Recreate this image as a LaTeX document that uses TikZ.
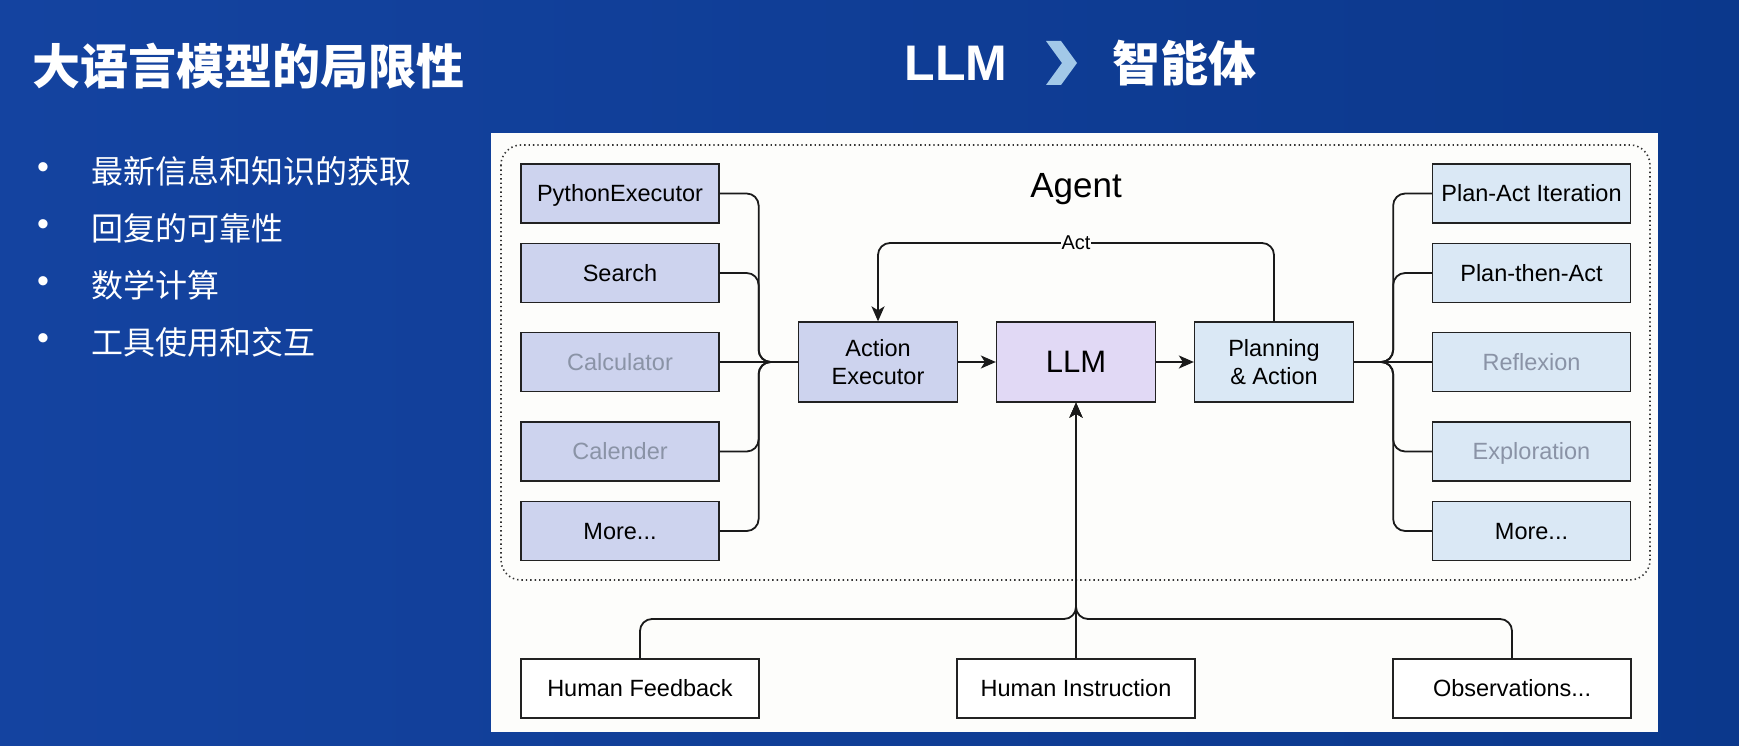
\documentclass[tikz,border=0pt]{standalone}
\usepackage{fontspec}
\setmainfont{Liberation Sans}
\newfontfamily\cjk{Noto Sans CJK SC}
\usetikzlibrary{arrows.meta}
\definecolor{bgL}{HTML}{1443A0}
\definecolor{bgR}{HTML}{0B388C}
\definecolor{panel}{HTML}{FDFDFB}
\definecolor{toolfill}{HTML}{CDD3EE}
\definecolor{llmfill}{HTML}{E1D9F5}
\definecolor{planfill}{HTML}{DAE8F5}
\definecolor{boxline}{HTML}{222222}
\definecolor{linecol}{HTML}{1A1A1A}
\definecolor{dimtext}{HTML}{8A93A6}
\definecolor{chev}{HTML}{A2C8E8}
\tikzset{
  box/.style={draw=boxline, line width=1.3pt, minimum width=198pt, minimum height=59pt,
    inner sep=0pt, font=\fontsize{23.5}{28}\selectfont, text=black,
    text height=16.8pt, text depth=0pt},
  tool/.style={box, fill=toolfill},
  plan/.style={box, fill=planfill},
  human/.style={box, fill=white, minimum width=238pt},
  dim/.style={text=dimtext},
  core/.style={draw=boxline, line width=1.3pt, minimum width=159pt, minimum height=80pt,
    inner sep=0pt, font=\fontsize{23.5}{28}\selectfont, align=center},
  conn/.style={draw=linecol, line width=1.8pt, rounded corners=12pt},
  arr/.style={-{Stealth[length=15pt,width=13pt,inset=4pt]}},
  bullet/.style={text=white, font=\fontsize{34}{34}\selectfont, inner sep=0pt},
  btext/.style={text=white, font=\cjk\fontsize{32}{32}\selectfont, inner sep=0pt, anchor=west},
}
\begin{document}
\begin{tikzpicture}[x=1pt,y=-1pt]
\useasboundingbox (0,0) rectangle (1739,746);
\shade[left color=bgL, right color=bgR] (0,0) rectangle (1739,746);

% titles
\node[text=white, font=\cjk\bfseries\fontsize{48}{48}\selectfont, inner sep=0pt, anchor=west] (title) at (32,66) {大语言模型的局限性};
\node[text=white, font=\bfseries\fontsize{50}{50}\selectfont, inner sep=0pt] (tllm) at (956,63) {LLM};
\fill[chev] (1046,41) -- (1061,41) -- (1077,63) -- (1061,85) -- (1046,85) -- (1062,63) -- cycle;
\node[text=white, font=\cjk\bfseries\fontsize{48}{48}\selectfont, inner sep=0pt] (tagent) at (1184,63) {智能体};

% bullets
\node[bullet] (b1) at (43,171) {•};
\node[bullet] (b2) at (43,228) {•};
\node[bullet] (b3) at (43,285) {•};
\node[bullet] (b4) at (43,342) {•};
\node[btext] (t1) at (91,171) {最新信息和知识的获取};
\node[btext] (t2) at (91,228) {回复的可靠性};
\node[btext] (t3) at (91,285) {数学计算};
\node[btext] (t4) at (91,342) {工具使用和交互};

% panel
\fill[panel] (491,133) rectangle (1658,732);
\draw[draw=black!80, line width=1.6pt, dash pattern=on 1.4pt off 3pt, rounded corners=20pt] (501,145) rectangle (1650,580);

\node[font=\fontsize{35}{35}\selectfont, anchor=base] (agent) at (1076,197) {Agent};

% left tools
\node[tool] (py) at (620,193.5) {PythonExecutor};
\node[tool] (se) at (620,273) {Search};
\node[tool, dim] (ca) at (620,362) {Calculator};
\node[tool, dim] (cl) at (620,451.5) {Calender};
\node[tool] (ml) at (620,531) {More...};

% right strategies
\node[plan] (r1) at (1531.5,193.5) {Plan-Act Iteration};
\node[plan] (r2) at (1531.5,273) {Plan-then-Act};
\node[plan, dim] (r3) at (1531.5,362) {Reflexion};
\node[plan, dim] (r4) at (1531.5,451.5) {Exploration};
\node[plan] (r5) at (1531.5,531) {More...};

% core
\node[core, fill=toolfill] (ae) at (878,362) {Action\\Executor};
\node[core, fill=llmfill, font=\fontsize{31}{31}\selectfont] (llm) at (1076,362) {LLM};
\node[core, fill=planfill] (pa) at (1274,362) {Planning\\\&\ Action};

% bottom
\node[human] (hf) at (640,688.5) {Human Feedback};
\node[human] (hi) at (1076,688.5) {Human Instruction};
\node[human] (ob) at (1512,688.5) {Observations...};

% left connectors
\foreach \n in {py,se,cl,ml}{
  \draw[conn] (\n.east) -- ++(39,0) |- (ae.west);
}
\draw[conn] (ca.east) -- (ae.west);

% right connectors
\foreach \n in {r1,r2,r4,r5}{
  \draw[conn] (pa.east) -- ++(39,0) |- (\n.west);
}
\draw[conn] (pa.east) -- (r3.west);

% main flow
\draw[conn, arr] (ae.east) -- (llm.west);
\draw[conn, arr] (llm.east) -- (pa.west);
\draw[conn, arr] (pa.north) |- (1076,243) -| (ae.north);
\node[fill=panel, inner sep=1pt, font=\fontsize{20}{20}\selectfont] (act) at (1076,243) {Act};

% bottom connectors
\coordinate (j) at (1076,619);
\draw[conn, arr] (hf.north) |- (j) -- (llm.south);
\draw[conn, arr] (ob.north) |- (j) -- (llm.south);
\draw[conn, arr] (hi.north) -- (llm.south);
\end{tikzpicture}
\end{document}
